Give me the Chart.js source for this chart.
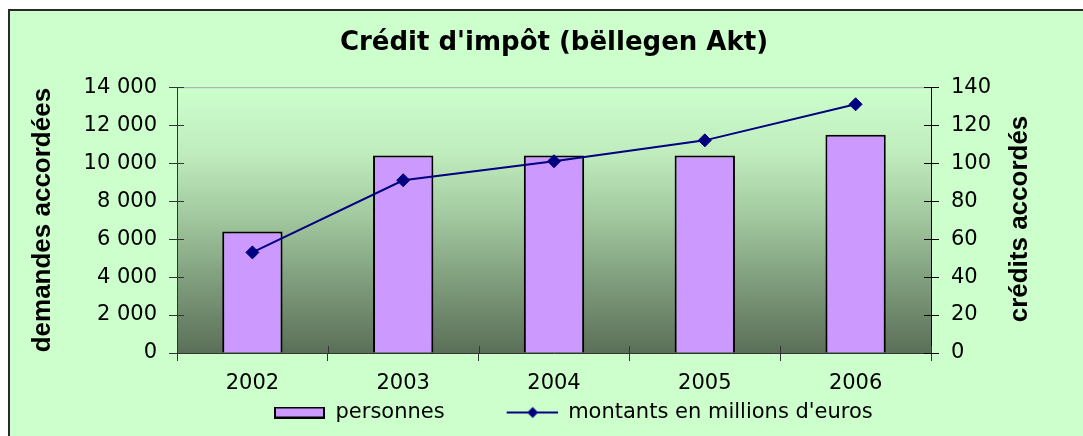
<!DOCTYPE html>
<html>
<head>
<meta charset="utf-8">
<script src="https://cdn.jsdelivr.net/npm/chart.js@4/dist/chart.umd.min.js"></script>
<style>
  html, body { margin: 0; padding: 0; background: #fff; overflow: hidden; }
  #wrap { width: 1083px; height: 436px; }
  canvas { display: block; }
</style>
</head>
<body>
<div id="wrap"><canvas id="myChart" width="1083" height="436"></canvas></div>
<script>
let years = ['2002', '2003', '2004', '2005', '2006'];
let personnes = [6400, 10400, 10400, 10400, 11500];
let montants = [53, 91, 101, 112, 131];
let leftTicks = [0, 2000, 4000, 6000, 8000, 10000, 12000, 14000];
let rightTicks = [0, 20, 40, 60, 80, 100, 120, 140];

let barColor = '#cc99ff';
let lineColor = '#000080';

Chart.defaults.font.family = 'DejaVu Sans';
Chart.defaults.color = '#000';

// "14 000" style thousands
function spaced(v) {
  return String(v).replace(/\B(?=(\d{3})+(?!\d))/g, ' ');
}

// legend swatches, a transparent 52px lead so the items sit apart
function barSwatch() {
  let c = document.createElement('canvas');
  c.width = 103; c.height = 12;
  let g = c.getContext('2d');
  g.fillStyle = barColor;
  g.fillRect(53, 1, 49, 10);
  g.strokeStyle = '#000';
  g.lineWidth = 2;
  g.strokeRect(53, 1, 49, 10);
  return c;
}
function lineSwatch() {
  let c = document.createElement('canvas');
  c.width = 103; c.height = 14;
  let g = c.getContext('2d');
  g.strokeStyle = lineColor;
  g.lineWidth = 2;
  g.beginPath(); g.moveTo(52, 7); g.lineTo(103, 7); g.stroke();
  g.fillStyle = lineColor;
  g.beginPath();
  g.moveTo(78, 1.5); g.lineTo(83.5, 7); g.lineTo(78, 12.5); g.lineTo(72.5, 7);
  g.closePath(); g.fill();
  return c;
}

let frame = {
  id: 'frame',
  beforeDraw(chart) {
    let ctx = chart.ctx;
    let a = chart.chartArea;
    ctx.save();
    ctx.fillStyle = '#fff';
    ctx.fillRect(0, 0, chart.width, chart.height);
    ctx.fillStyle = '#ccffcc';
    ctx.fillRect(8, 9, chart.width - 8, chart.height - 9);
    ctx.fillStyle = '#2a2a2a';
    ctx.fillRect(8, 9, chart.width - 8, 2);
    ctx.fillRect(8, 9, 2, chart.height - 9);
    let grad = ctx.createLinearGradient(0, a.top, 0, a.bottom);
    grad.addColorStop(0, '#ccffcc');
    grad.addColorStop(0.25, '#c0ecbe');
    grad.addColorStop(0.5, '#a0c69d');
    grad.addColorStop(0.75, '#7c9a79');
    grad.addColorStop(1, '#5b6f58');
    ctx.fillStyle = grad;
    ctx.fillRect(a.left, a.top, a.right - a.left, a.bottom - a.top);
    ctx.strokeStyle = '#a8a8a8';
    ctx.lineWidth = 1;
    ctx.beginPath();
    ctx.moveTo(a.left, a.top + 0.5); ctx.lineTo(a.right, a.top + 0.5);
    ctx.stroke();
    ctx.restore();
  },
  afterLayout(chart) {
    // pull the legend under the year labels
    let lg = chart.legend;
    lg.left = 212;
    lg.right = chart.width;
    lg.top = 392;
  },
  afterDraw(chart) {
    let ctx = chart.ctx;
    let a = chart.chartArea;
    let y = chart.scales.y, y1 = chart.scales.y1;
    ctx.save();
    ctx.lineWidth = 1;
    // inner half of the crossing tick marks
    ctx.strokeStyle = '#333';
    leftTicks.forEach(v => {
      let p = Math.round(y.getPixelForValue(v)) + 0.5;
      ctx.beginPath(); ctx.moveTo(a.left, p); ctx.lineTo(a.left + 7, p); ctx.stroke();
    });
    ctx.strokeStyle = '#000';
    rightTicks.forEach(v => {
      let p = Math.round(y1.getPixelForValue(v)) + 0.5;
      ctx.beginPath(); ctx.moveTo(a.right - 7, p); ctx.lineTo(a.right, p); ctx.stroke();
    });
    ctx.strokeStyle = '#333';
    let step = (a.right - a.left) / years.length;
    for (let i = 0; i <= years.length; i++) {
      let p = Math.round(a.left + i * step) + 0.5;
      ctx.beginPath(); ctx.moveTo(p, a.bottom - 7); ctx.lineTo(p, a.bottom); ctx.stroke();
    }
    // right axis title reads bottom to top like the left one
    ctx.translate(1020, 219);
    ctx.rotate(-Math.PI / 2);
    ctx.font = 'bold 26px "Liberation Sans"';
    ctx.fillStyle = '#000';
    ctx.textAlign = 'center';
    ctx.textBaseline = 'middle';
    ctx.fillText('crédits accordés', 0, 0);
    ctx.restore();
  }
};

let myChart = document.getElementById('myChart').getContext('2d');

let chart = new Chart(myChart, {
  type: 'bar',
  data: {
    labels: years,
    datasets: [
      {
        type: 'bar',
        label: 'personnes',
        data: personnes,
        yAxisID: 'y',
        backgroundColor: barColor,
        borderColor: '#000',
        borderWidth: 2,
        categoryPercentage: 1,
        barPercentage: 0.4,
        order: 1
      },
      {
        type: 'line',
        label: "montants en millions d'euros",
        data: montants,
        yAxisID: 'y1',
        borderColor: lineColor,
        borderWidth: 2,
        tension: 0,
        pointStyle: 'rectRot',
        pointRadius: 6.5,
        pointBackgroundColor: lineColor,
        pointBorderColor: lineColor,
        pointBorderWidth: 1,
        order: 0
      }
    ]
  },
  options: {
    responsive: false,
    animation: false,
    layout: { padding: 0 },
    plugins: {
      title: {
        display: true,
        fullSize: false,
        text: "Crédit d'impôt (bëllegen Akt)",
        color: '#000',
        font: { family: 'DejaVu Sans', size: 26, weight: 'bold' },
        padding: { top: 28, bottom: 28 }
      },
      legend: {
        display: true,
        position: 'bottom',
        align: 'start',
        labels: {
          usePointStyle: true,
          pointStyleWidth: 103,
          boxHeight: 12,
          padding: 10,
          color: '#000',
          font: { family: 'DejaVu Sans', size: 21 },
          generateLabels(chart) {
            let sw = [barSwatch(), lineSwatch()];
            return chart.data.datasets.map((ds, i) => ({
              text: ds.label,
              pointStyle: sw[i],
              fillStyle: 'transparent',
              strokeStyle: 'transparent',
              lineWidth: 0,
              fontColor: '#000',
              hidden: false,
              datasetIndex: i
            }));
          }
        }
      },
      tooltip: { enabled: false }
    },
    scales: {
      x: {
        offset: true,
        grid: { display: true, drawOnChartArea: false, offset: true, tickLength: 8, color: '#333' },
        border: { color: '#333' },
        ticks: { font: { size: 21 }, padding: 10, maxRotation: 0, color: '#000' },
        afterFit(scale) {
          // chart area ends at 353 whatever the legend takes
          scale.height = scale.chart.height - 353 - scale.chart.legend.height;
        }
      },
      y: {
        position: 'left',
        min: 0,
        max: 14000,
        grid: { drawOnChartArea: false, tickLength: 8, color: '#333' },
        border: { color: '#333' },
        ticks: {
          stepSize: 2000,
          padding: 12,
          font: { size: 21 },
          color: '#000',
          callback: v => spaced(v)
        },
        title: {
          display: true,
          text: 'demandes accordées',
          color: '#000',
          font: { family: 'Liberation Sans', size: 26, weight: 'bold' },
          padding: { top: 27, bottom: 0 }
        },
        afterFit(scale) { scale.width = 177; }
      },
      y1: {
        position: 'right',
        min: 0,
        max: 140,
        grid: { drawOnChartArea: false, tickLength: 8, color: '#000' },
        border: { color: '#000' },
        ticks: { stepSize: 20, padding: 12, font: { size: 21 }, color: '#000' },
        afterFit(scale) { scale.width = 152; }
      }
    }
  },
  plugins: [frame]
});
</script>
</body>
</html>
